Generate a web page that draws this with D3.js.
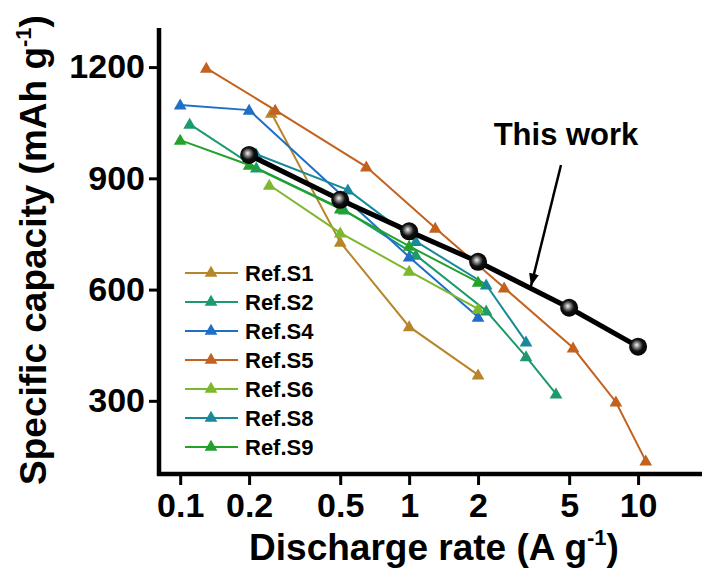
<!DOCTYPE html>
<html>
<head>
<meta charset="utf-8">
<script src="https://cdn.jsdelivr.net/npm/d3@7"></script>
<style>
  html, body { margin: 0; padding: 0; background: #fff; }
  svg { display: block; font-family: "Liberation Sans", Arial, sans-serif; font-weight: bold; }
</style>
</head>
<body>
<svg id="chart" width="702" height="569"></svg>
<script>
// Rate capability: specific capacity vs. discharge rate (log x)
const xTicks = [0.1, 0.2, 0.5, 1, 2, 5, 10];
const yTicks = [300, 600, 900, 1200];

const thisWork = [[0.2, 963], [0.5, 842], [1, 757], [2, 675], [5, 551], [10, 446]];

const refS1 = [[0.25, 1076], [0.5, 728], [1, 500], [2, 370]];
const refS2 = [[0.11, 1046], [0.215, 928], [0.52, 815], [1.07, 693], [2.17, 543], [3.24, 419], [4.38, 319]];
const refS4 = [[0.1, 1098], [0.2, 1084], [1, 688], [2, 526]];
const refS5 = [[0.13, 1197], [0.26, 1084], [0.65, 931], [1.3, 766], [2.6, 605], [5.2, 443], [8, 297], [10.8, 138]];
const refS6 = [[0.245, 882], [0.5, 753], [1, 650], [2, 548]];
const refS8 = [[0.215, 965], [0.54, 869], [1.07, 730], [2.17, 613], [3.24, 459]];
const refS9 = [[0.1, 1003], [0.2, 936], [0.5, 818], [1, 717], [2, 620]];

const refNames = ["Ref.S1", "Ref.S2", "Ref.S4", "Ref.S5", "Ref.S6", "Ref.S8", "Ref.S9"];
const refColors = ["#b8862a", "#1d9a6c", "#1f6fc6", "#c2621e", "#7bb82e", "#17899a", "#23a12b"];
const refData = [refS1, refS2, refS4, refS5, refS6, refS8, refS9];

const svg = d3.select("#chart");

const x = d3.scaleLog().domain([0.08, 20]).range([158, 707]);
const y = d3.scaleLinear().domain([100, 1300]).range([475, 30]);

// gradient for the glossy black markers
const defs = svg.append("defs");
const grad = defs.append("radialGradient").attr("id", "ball")
  .attr("cx", "45%").attr("cy", "45%").attr("r", "60%").attr("fx", "42%").attr("fy", "40%");
grad.append("stop").attr("offset", "0%").attr("stop-color", "#f4f4f4");
grad.append("stop").attr("offset", "25%").attr("stop-color", "#8a8a8a");
grad.append("stop").attr("offset", "55%").attr("stop-color", "#111");
grad.append("stop").attr("offset", "100%").attr("stop-color", "#000");

defs.append("marker").attr("id", "arrowhead")
  .attr("viewBox", "0 0 10 10").attr("refX", 10).attr("refY", 5)
  .attr("markerWidth", 5).attr("markerHeight", 5).attr("markerUnits", "strokeWidth")
  .attr("orient", "auto")
  .append("path").attr("d", "M0,1 L10,5 L0,9 Z").attr("fill", "#000");

// axes
const xAxis = d3.axisBottom(x).tickValues(xTicks).tickFormat(d3.format("~g"))
  .tickSize(11).tickSizeOuter(0).tickPadding(8);
const yAxis = d3.axisLeft(y).tickValues(yTicks).tickFormat(d3.format("d"))
  .tickSize(10).tickSizeOuter(0).tickPadding(4);

const gx = svg.append("g").attr("transform", "translate(0,474)").call(xAxis);
const gy = svg.append("g").attr("transform", "translate(159,0)").call(yAxis);

[gx, gy].forEach(g => {
  g.select(".domain").attr("stroke", "#000").attr("stroke-width", 4.5);
  g.selectAll(".tick line").attr("stroke", "#000").attr("stroke-width", 3);
  g.selectAll(".tick text").attr("fill", "#000").attr("font-size", 34)
    .attr("font-family", "'Liberation Sans', Arial, sans-serif").attr("font-weight", "bold");
});
gy.select(".domain").attr("d", "M0,28V476");
gx.select(".domain").attr("d", "M157,0H702");

// axis titles
const xt = svg.append("text").attr("x", 434).attr("y", 560).attr("text-anchor", "middle")
  .attr("font-size", 37);
xt.append("tspan").text("Discharge rate (A g");
xt.append("tspan").attr("font-size", 22).attr("dy", -15).text("-1");
xt.append("tspan").attr("dy", 15).text(")");

const yt = svg.append("text").attr("transform", "translate(46,250) rotate(-90)")
  .attr("text-anchor", "middle").attr("font-size", 37);
yt.append("tspan").text("Specific capacity (mAh g");
yt.append("tspan").attr("font-size", 22).attr("dy", -15).text("-1");
yt.append("tspan").attr("dy", 15).text(")");

// reference series
const line = d3.line().x(d => x(d[0])).y(d => y(d[1]));
const tri = d3.symbol().type(d3.symbolTriangle).size(70);

refData.forEach((data, i) => {
  const g = svg.append("g");
  g.append("path").datum(data).attr("d", line).attr("fill", "none")
    .attr("stroke", refColors[i]).attr("stroke-width", 2);
  g.selectAll("path.m").data(data).join("path").attr("class", "m")
    .attr("d", tri).attr("fill", refColors[i])
    .attr("transform", d => `translate(${x(d[0])},${y(d[1]) + 1})`);
});

// this work
svg.append("path").datum(thisWork).attr("d", line).attr("fill", "none")
  .attr("stroke", "#000").attr("stroke-width", 5);
svg.selectAll("circle.tw").data(thisWork).join("circle").attr("class", "tw")
  .attr("cx", d => x(d[0])).attr("cy", d => y(d[1])).attr("r", 9)
  .attr("fill", "url(#ball)");

// annotation
svg.append("text").attr("x", 566).attr("y", 145).attr("text-anchor", "middle")
  .attr("font-size", 31).text("This work");
svg.append("line").attr("x1", 561).attr("y1", 165).attr("x2", 531).attr("y2", 286)
  .attr("stroke", "#000").attr("stroke-width", 2.5).attr("marker-end", "url(#arrowhead)");

// legend
const legend = svg.append("g");
refNames.forEach((name, i) => {
  const cy = 273 + i * 29;
  legend.append("line").attr("x1", 185).attr("x2", 238).attr("y1", cy).attr("y2", cy)
    .attr("stroke", refColors[i]).attr("stroke-width", 2);
  legend.append("path").attr("d", tri).attr("fill", refColors[i])
    .attr("transform", `translate(211,${cy})`);
  legend.append("text").attr("x", 245).attr("y", cy).attr("dy", "0.36em")
    .attr("font-size", 22).attr("fill", "#000").text(name);
});
</script>
</body>
</html>
